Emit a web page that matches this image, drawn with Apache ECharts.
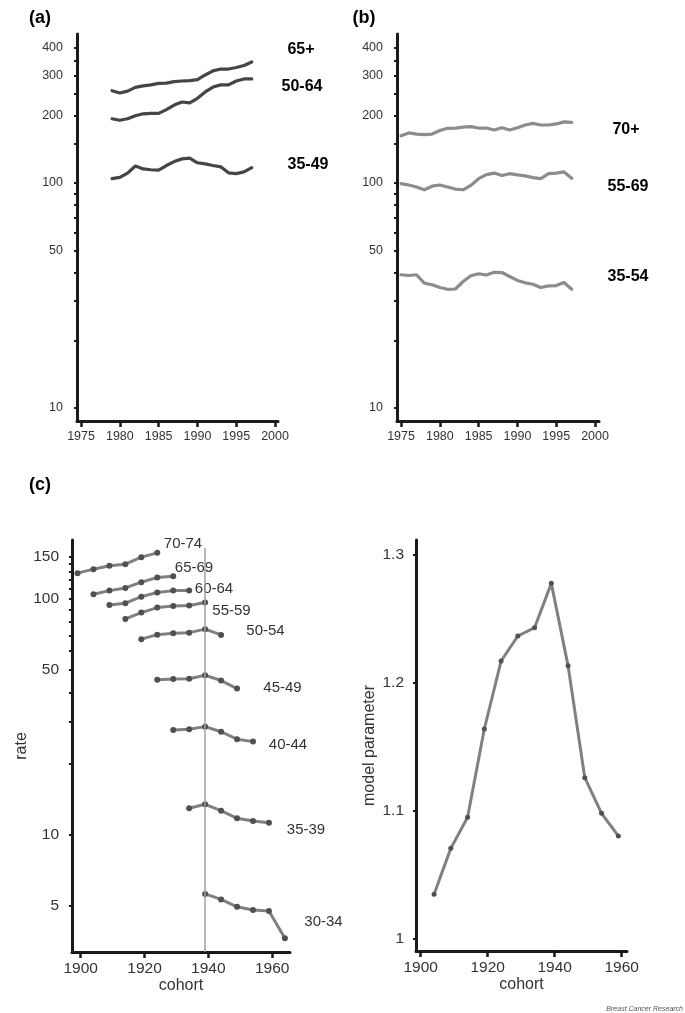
<!DOCTYPE html>
<html><head><meta charset="utf-8">
<script src="https://cdn.jsdelivr.net/npm/echarts@6/dist/echarts.min.js"></script>
<style>html,body{margin:0;padding:0;background:#fff}#c{width:685px;height:1013px}</style>
</head><body><div id="c"></div>
<script>
// ---------- data ----------
const yearsA = [1979,1980,1981,1982,1983,1984,1985,1986,1987,1988,1989,1990,1991,1992,1993,1994,1995,1996,1997];
const a65plus = [257,251,256,266,270,273,277,278,282,284,285,288,302,315,321,321,326,333,345];
const a50to64 = [193,190,193,199,203,204,204,212,222,229,227,238,254,267,273,273,284,290,290];
const a35to49 = [104.5,106,110.6,119,115.5,114.5,114,119.6,124.5,128,129,123,121.6,119.6,118,111,110,112,117];

const yearsB = [1975,1976,1977,1978,1979,1980,1981,1982,1983,1984,1985,1986,1987,1988,1989,1990,1991,1992,1993,1994,1995,1996,1997];
const b70plus = [162,167,165,164,165,171,175,175.5,177,178,175.5,175.5,172,176,172,176,181,184,181,181,183,187,186];
const b55to69 = [99.3,98,96,93.3,96.8,98,96,94,93.3,97.6,104.5,109,110.7,108,110,108.6,107.5,105.7,104.5,110,110.7,112,105];
const b35to54 = [39.1,38.8,39.1,35.9,35.3,34.3,33.7,33.8,36.5,38.7,39.5,39,40.1,40,38.4,36.9,36,35.5,34.3,34.9,35,36.1,33.7];

const cohorts = [1899,1904,1909,1914,1919,1924,1929,1934,1939,1944,1949,1954,1959,1964];
const r70to74 = [128.3,133.4,137.8,140,150,156.4,null,null,null,null,null,null,null,null];
const r65to69 = [null,104.5,108.2,111.1,117.5,122.9,124.6,null,null,null,null,null,null,null];
const r60to64 = [null,null,94.1,95.7,102,106.2,108.2,108.2,null,null,null,null,null,null];
const r55to59 = [null,null,null,82.1,87.3,91.7,93.2,93.5,96.3,null,null,null,null,null];
const r50to54 = [null,null,null,null,67.4,70.4,71.4,71.8,74.3,70.2,null,null,null,null];
const r45to49 = [null,null,null,null,null,45.3,45.7,45.8,47.4,45,41.6,null,null,null];
const r40to44 = [null,null,null,null,null,null,27.8,28,28.7,27.3,25.4,24.8,null,null];
const r35to39 = [null,null,null,null,null,null,null,12.94,13.45,12.64,11.73,11.43,11.24,null];
const r30to34 = [null,null,null,null,null,null,null,null,5.61,5.32,4.95,4.80,4.75,3.64];
const refCohort = 1939;

const cohortsParam = [1904,1909,1914,1919,1924,1929,1934,1939,1944,1949,1954,1959];
const modelParam = [1.0344,1.0704,1.0947,1.1638,1.217,1.2366,1.2431,1.2778,1.2134,1.1257,1.0978,1.0801];

// ticks / labels
const yearTicks = [1975,1980,1985,1990,1995,2000];
const logTicksAB = [10,20,30,40,50,60,70,80,90,100,150,200,250,300,350,400];
const logLabelsAB = [10,50,100,200,300,400];
const cohortTicks = [1900,1920,1940,1960];
const logTicksC = [5,10,20,30,40,50,60,70,80,90,100,110,120,130,140,150];
const logLabelsC = [5,10,50,100,150];
const paramTicks = [1,1.1,1.2,1.3];

// ---------- styling ----------
const AX = '#1a1a1a';
const SANS = "'Liberation Sans',Arial,sans-serif";

function xAx(gi, min, max, ticks, fs, margin, name, nameGap) {
  return {
    type: 'value', gridIndex: gi, min, max,
    axisLine: {show: true, onZero: false, lineStyle: {color: AX, width: 3}},
    axisTick: {show: true, length: 6, lineStyle: {color: AX, width: 2.5}, customValues: ticks},
    axisLabel: {show: true, customValues: ticks, fontSize: fs, fontFamily: SANS, color: '#333', margin,
      formatter: v => String(v)},
    splitLine: {show: false},
    name: name || '', nameLocation: 'middle', nameGap: nameGap || 0,
    nameTextStyle: {fontFamily: SANS, fontSize: 16, color: '#333'}
  };
}
function yAx(gi, type, min, max, ticks, labels, fs, margin, name, nameGap) {
  return {
    type, gridIndex: gi, min, max, logBase: 10,
    axisLine: {show: true, onZero: false, lineStyle: {color: AX, width: 3}},
    axisTick: {show: true, length: 3, lineStyle: {color: AX, width: 2}, customValues: ticks},
    axisLabel: {show: true, customValues: labels, fontSize: fs, fontFamily: SANS, color: '#333', margin,
      formatter: v => String(v)},
    splitLine: {show: false}, minorTick: {show: false},
    name: name || '', nameLocation: 'middle', nameGap: nameGap || 0,
    nameTextStyle: {fontFamily: SANS, fontSize: 16, color: '#333'}
  };
}
function pairs(xs, ys) { return xs.map((x, i) => [x, ys[i]]).filter(d => d[1] != null); }
function plain(ai, xs, ys, color) {
  return {type: 'line', xAxisIndex: ai, yAxisIndex: ai, data: pairs(xs, ys), symbol: 'none',
    lineStyle: {color, width: 3.2, join: 'round', cap: 'round'}, silent: true, z: 3};
}
function dotted(ai, xs, ys, size) {
  return {type: 'line', xAxisIndex: ai, yAxisIndex: ai, data: pairs(xs, ys), symbol: 'circle', symbolSize: size || 6,
    showSymbol: true, itemStyle: {color: '#505050'}, lineStyle: {color: '#808080', width: 3, join: 'round'}, silent: true, z: 3};
}
function txt(text, x, y, font, color, align) {
  return {type: 'text', x, y, silent: true, style: {text, font, fill: color || '#000',
    align: align || 'center', verticalAlign: 'middle', textAlign: align || 'center', textVerticalAlign: 'middle'}};
}

const chart = echarts.init(document.getElementById('c'), null, {renderer: 'canvas'});
chart.setOption({
  animation: false,
  backgroundColor: '#fff',
  grid: [
    {left: 77, top: 34, width: 201, height: 387, containLabel: false, outerBoundsMode: 'none'},
    {left: 397, top: 34, width: 202, height: 387, containLabel: false, outerBoundsMode: 'none'},
    {left: 72, top: 540, width: 218, height: 412, containLabel: false, outerBoundsMode: 'none'},
    {left: 416, top: 540, width: 211, height: 411, containLabel: false, outerBoundsMode: 'none'}
  ],
  xAxis: [
    xAx(0, 1974.48, 2000.38, yearTicks, 12.5, 9),
    xAx(1, 1974.48, 2000.51, yearTicks, 12.5, 9),
    xAx(2, 1897.27, 1965.6, cohortTicks, 15.5, 9, 'cohort', 23),
    xAx(3, 1898.6, 1961.6, cohortTicks, 15.5, 9, 'cohort', 23)
  ],
  yAxis: [
    yAx(0, 'log', 8.755, 459.4, logTicksAB, logLabelsAB, 12.5, 14),
    yAx(1, 'log', 8.755, 459.4, logTicksAB, logLabelsAB, 12.5, 14),
    yAx(2, 'log', 3.184, 177.3, logTicksC, logLabelsC, 15.5, 13, 'rate', 32),
    yAx(3, 'value', 0.99006, 1.31173, paramTicks, paramTicks, 15.5, 12, 'model parameter', 38)
  ],
  series: [
    plain(0, yearsA, a65plus, '#454545'),
    plain(0, yearsA, a50to64, '#454545'),
    plain(0, yearsA, a35to49, '#454545'),
    plain(1, yearsB, b70plus, '#8c8c8c'),
    plain(1, yearsB, b55to69, '#8c8c8c'),
    plain(1, yearsB, b35to54, '#8c8c8c'),
    {type: 'line', xAxisIndex: 2, yAxisIndex: 2, data: [], z: 1, silent: true,
      markLine: {silent: true, symbol: 'none', label: {show: false}, animation: false,
        lineStyle: {color: '#a0a0a0', width: 1.5, type: 'solid'},
        data: [[{coord: [refCohort, 3.184]}, {coord: [refCohort, 164]}]]}},
    dotted(2, cohorts, r70to74), dotted(2, cohorts, r65to69), dotted(2, cohorts, r60to64),
    dotted(2, cohorts, r55to59), dotted(2, cohorts, r50to54), dotted(2, cohorts, r45to49),
    dotted(2, cohorts, r40to44), dotted(2, cohorts, r35to39), dotted(2, cohorts, r30to34),
    dotted(3, cohortsParam, modelParam, 5)
  ],
  graphic: [
    txt('(a)', 40, 18, 'bold 18px ' + SANS),
    txt('(b)', 364, 18, 'bold 18px ' + SANS),
    txt('(c)', 40, 485, 'bold 18px ' + SANS),
    txt('65+', 301, 50, 'bold 16px ' + SANS),
    txt('50-64', 302, 87, 'bold 16px ' + SANS),
    txt('35-49', 308, 165, 'bold 16px ' + SANS),
    txt('70+', 626, 130, 'bold 16px ' + SANS),
    txt('55-69', 628, 187, 'bold 16px ' + SANS),
    txt('35-54', 628, 277, 'bold 16px ' + SANS),
    txt('70-74', 183, 544, '15px ' + SANS, '#333'),
    txt('65-69', 194, 568, '15px ' + SANS, '#333'),
    txt('60-64', 214, 589, '15px ' + SANS, '#333'),
    txt('55-59', 231.5, 611, '15px ' + SANS, '#333'),
    txt('50-54', 265.5, 631, '15px ' + SANS, '#333'),
    txt('45-49', 282.5, 688, '15px ' + SANS, '#333'),
    txt('40-44', 288, 745, '15px ' + SANS, '#333'),
    txt('35-39', 306, 830, '15px ' + SANS, '#333'),
    txt('30-34', 323.5, 922, '15px ' + SANS, '#333'),
    txt('Breast Cancer Research', 683, 1009, 'italic 7px ' + SANS, '#555', 'right')
  ]
});
</script>
</body></html>
